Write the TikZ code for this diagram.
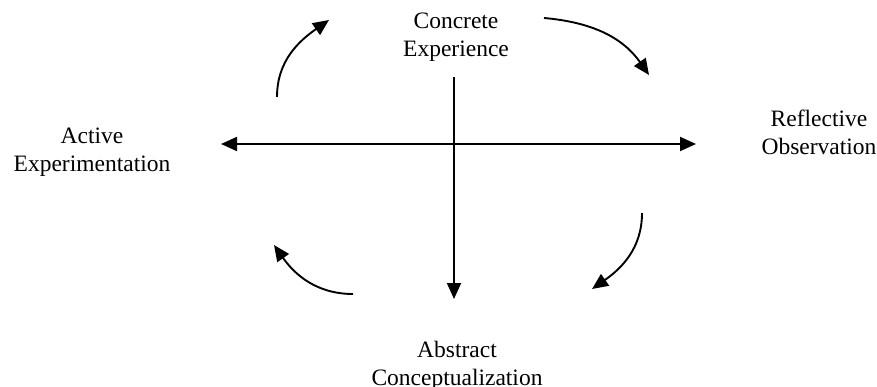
\documentclass[tikz,border=0pt]{standalone}
\usepackage{fontspec}
\setmainfont{Liberation Serif}
\usetikzlibrary{arrows.meta}
\begin{document}
\begin{tikzpicture}[x=1pt,y=-1pt,
  lbl/.style={align=center,inner sep=0pt,anchor=base,font=\fontsize{23.5}{28}\selectfont},
  axis/.style={line width=1.9pt,-{Triangle[length=16pt,width=14pt]}},
  cyc/.style={line width=1.9pt,-{Triangle[length=16pt,width=14pt]}}]
\useasboundingbox (0,0) rectangle (877,387);
\node[lbl] (ce) at (456,57) {Concrete\\Experience};
\node[lbl] (ae) at (92,172) {Active\\Experimentation};
\node[lbl] (ro) at (819,155) {Reflective\\Observation};
\node[lbl] (ac) at (457,385) {Abstract\\Conceptualization};
\coordinate (vtop) at (454,77);
\coordinate (vbot) at (454,299);
\coordinate (hl) at (221,144);
\coordinate (hr) at (696,144);
\coordinate (hm) at (454,144);
\draw[axis] (vtop) -- (vbot);
\draw[axis] (hm) -- (hl);
\draw[axis] (hm) -- (hr);
\coordinate (a1) at (277,97);  \coordinate (b1) at (329,20);
\coordinate (a2) at (544,18);  \coordinate (b2) at (649,75);
\coordinate (a3) at (642,213); \coordinate (b3) at (592,289);
\coordinate (a4) at (353,294); \coordinate (b4) at (274,245);
\draw[cyc] (a1) to[out=90,in=215] (b1);
\draw[cyc] (a2) to[out=-5,in=125] (b2);
\draw[cyc] (a3) to[out=-90,in=35] (b3);
\draw[cyc] (a4) to[out=180,in=-55] (b4);
\end{tikzpicture}
\end{document}
